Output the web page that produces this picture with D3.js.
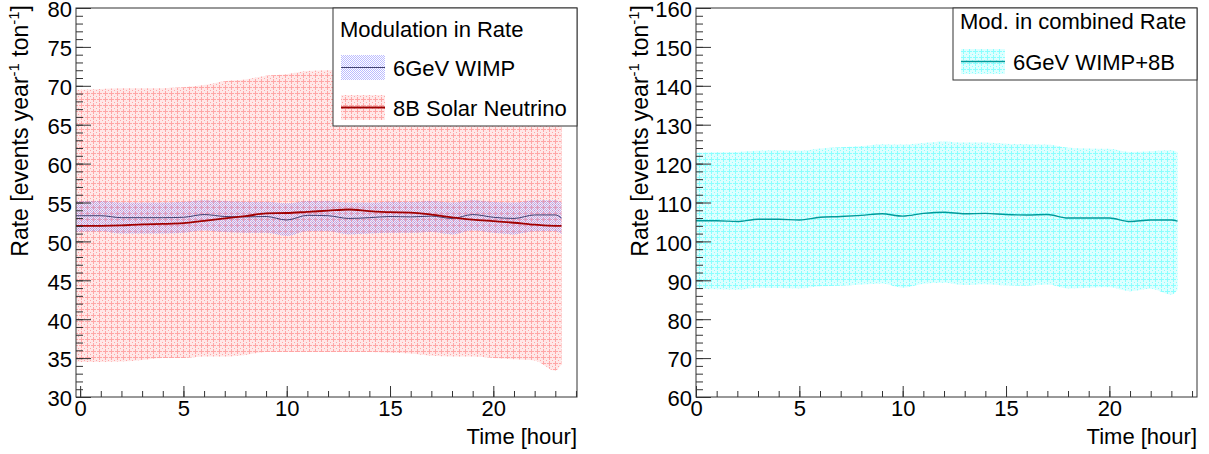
<!DOCTYPE html>
<html>
<head>
<meta charset="utf-8">
<script src="https://cdn.jsdelivr.net/npm/d3@7"></script>
<style>
body { margin: 0; background: #fff; }
text { font-family: "Liberation Sans", Arial, Helvetica, sans-serif; fill: #000; }
</style>
</head>
<body>
<svg id="chart" width="1209" height="454"></svg>
<script>
// time points (hours)
var hoursL = [-0.2, 1, 2, 3, 4, 5, 6, 7, 8, 9, 10, 11, 12, 13, 14, 15, 16, 17, 18, 19, 20, 21, 22, 23, 23.3];
var hoursR = [0, 1, 2, 3, 4, 5, 6, 7, 8, 9, 10, 11, 12, 13, 14, 15, 16, 17, 18, 19, 20, 21, 22, 23, 23.3];

// 6GeV WIMP
var wimpRate = [53.3, 53.3, 53.05, 53.05, 53.05, 53.1, 53.45, 53.2, 53.15, 53.2, 52.75, 53.35, 53.3, 52.95, 53.05, 53.2, 53.15, 53.25, 52.95, 53.45, 53.1, 52.95, 53.4, 53.4, 53.0];
var wimpHigh = [55.2, 55.2, 55.0, 55.0, 55.0, 55.1, 55.3, 55.2, 55.1, 55.1, 54.9, 55.2, 55.2, 55.0, 55.0, 55.1, 55.1, 55.2, 55.0, 55.3, 55.1, 55.0, 55.3, 55.3, 55.0];
var wimpLow  = [51.2, 51.3, 51.0, 51.0, 51.0, 51.1, 51.4, 51.2, 51.1, 51.1, 50.7, 51.3, 51.3, 50.9, 51.0, 51.1, 51.1, 51.2, 50.9, 51.4, 51.1, 50.9, 51.3, 51.3, 50.9];

// 8B solar neutrino
var nuRate = [52.0, 52.0, 52.05, 52.2, 52.25, 52.35, 52.65, 52.95, 53.25, 53.6, 53.65, 53.8, 53.95, 54.1, 53.9, 53.75, 53.7, 53.45, 53.1, 52.8, 52.6, 52.4, 52.15, 52.0, 52.0];
var nuHigh = [69.5, 69.6, 69.7, 69.7, 69.7, 69.8, 70.1, 70.6, 70.8, 71.3, 71.5, 71.9, 72.0, 72.1, 72.1, 72.0, 72.0, 71.8, 71.4, 71.1, 70.9, 70.6, 70.4, 70.3, 70.0];
var nuLow  = [34.5, 34.5, 34.55, 34.75, 35.0, 35.0, 35.2, 35.2, 35.4, 35.8, 35.8, 35.8, 35.8, 35.8, 35.8, 35.7, 35.6, 35.3, 35.2, 35.2, 35.0, 34.85, 34.7, 33.4, 34.2];

// 6GeV WIMP + 8B combined
var comboRate = [105.3, 105.3, 105.1, 105.7, 105.7, 105.5, 106.2, 106.4, 106.7, 107.1, 106.5, 107.2, 107.5, 107.1, 107.2, 106.9, 106.8, 106.9, 106.0, 106.0, 106.0, 105.1, 105.5, 105.5, 105.2];
var comboHigh = [122.8, 122.9, 123.0, 123.3, 123.4, 123.3, 123.9, 124.2, 124.5, 125.0, 124.9, 125.3, 125.6, 125.4, 125.4, 125.1, 125.0, 124.9, 124.1, 123.9, 123.8, 123.0, 123.2, 123.4, 122.9];
var comboLow  = [87.8, 87.7, 87.6, 88.1, 88.0, 87.9, 88.5, 88.6, 88.9, 89.2, 88.1, 89.1, 89.4, 88.8, 89.0, 88.7, 88.6, 88.9, 87.9, 88.1, 88.2, 87.2, 87.8, 86.3, 87.5];

var xTicks = [0, 5, 10, 15, 20];
var leftYTicks = [30, 35, 40, 45, 50, 55, 60, 65, 70, 75, 80];
var rightYTicks = [60, 70, 80, 90, 100, 110, 120, 130, 140, 150, 160];

var FS = 22;
var svg = d3.select("#chart");
svg.append("rect").attr("width", 1209).attr("height", 454).attr("fill", "#fff");

// ROOT-like fill patterns
var defs = svg.append("defs");
function crossPattern(id, bg, fg) {
    var p = defs.append("pattern").attr("id", id)
        .attr("width", 6).attr("height", 6)
        .attr("patternUnits", "userSpaceOnUse");
    p.append("rect").attr("width", 6).attr("height", 6).attr("fill", bg);
    p.append("path").attr("d", "M3,0.5v5M0.5,3h5")
        .attr("stroke", fg).attr("stroke-width", 1).attr("shape-rendering", "crispEdges");
    p.append("rect").attr("x", 0).attr("y", 0).attr("width", 1).attr("height", 1).attr("fill", fg);
}
crossPattern("redFill", "rgba(255,205,205,0.45)", "#ffa6a6");
crossPattern("cyanFill", "rgba(195,255,255,0.55)", "#8affff");
var bp = defs.append("pattern").attr("id", "blueFill")
    .attr("width", 2).attr("height", 2).attr("patternUnits", "userSpaceOnUse");
bp.append("rect").attr("x", 0).attr("y", 0).attr("width", 1).attr("height", 1).attr("fill", "rgba(120,120,255,0.5)");
bp.append("rect").attr("x", 1).attr("y", 1).attr("width", 1).attr("height", 1).attr("fill", "rgba(120,120,255,0.5)");

function drawPanel(ox, xDomain, yDomain, yTicks, yMinorStep) {
    var left = ox + 76, right = ox + 577, top = 8, bottom = 397;
    var x = d3.scaleLinear().domain(xDomain).range([left, right]);
    var y = d3.scaleLinear().domain(yDomain).range([bottom, top]);
    var g = svg.append("g");

    var fr = svg.append("g");
    // axes, ticks pointing inward like ROOT
    var xMinor = d3.range(Math.ceil(xDomain[0]), xDomain[1], 1);
    var yMinor = d3.range(yDomain[0], yDomain[1] + 0.001, yMinorStep);

    fr.append("g").attr("transform", "translate(0," + bottom + ")")
        .call(d3.axisBottom(x).tickValues(xMinor).tickSize(-6).tickFormat(""));
    fr.append("g").attr("transform", "translate(0," + bottom + ")")
        .call(d3.axisBottom(x).tickValues(xTicks).tickSize(-11).tickPadding(3))
        .selectAll("text").attr("font-size", FS);
    fr.append("g").attr("transform", "translate(" + left + ",0)")
        .call(d3.axisLeft(y).tickValues(yMinor).tickSize(-7).tickFormat(""));
    fr.append("g").attr("transform", "translate(" + left + ",0)")
        .call(d3.axisLeft(y).tickValues(yTicks).tickSize(-15).tickPadding(4))
        .selectAll("text").attr("font-size", FS).attr("dy", "0.4em");
    fr.selectAll(".domain").remove();
    fr.selectAll("line").attr("stroke", "#333");
    fr.selectAll("g").attr("font-family", null);

    fr.append("rect").attr("x", left).attr("y", top)
        .attr("width", right - left).attr("height", bottom - top)
        .attr("fill", "none").attr("stroke", "#333").attr("stroke-width", 1);

    // axis titles
    fr.append("text").attr("x", right).attr("y", 444)
        .attr("text-anchor", "end").attr("font-size", FS).text("Time [hour]");
    var yt = fr.append("text").attr("transform", "translate(" + (ox + 28) + ",5) rotate(-90)")
        .attr("text-anchor", "end").attr("font-size", 23);
    yt.append("tspan").text("Rate [events year");
    yt.append("tspan").attr("dy", -9).attr("font-size", 15).text("-1");
    yt.append("tspan").attr("dy", 9).text(" ton");
    yt.append("tspan").attr("dy", -9).attr("font-size", 15).text("-1");
    yt.append("tspan").attr("dy", 9).text("]");

    return {x: x, y: y, g: g, fr: fr};
}

function band(p, hours, lo, hi, fill) {
    var area = d3.area()
        .x(function(d, i) { return p.x(hours[i]); })
        .y0(function(d, i) { return p.y(lo[i]); })
        .y1(function(d, i) { return p.y(hi[i]); })
        .curve(d3.curveMonotoneX);
    p.g.append("path").datum(hours).attr("d", area).attr("fill", fill);
}
function line(p, hours, vals, color, w) {
    var ln = d3.line()
        .x(function(d, i) { return p.x(hours[i]); })
        .y(function(d) { return p.y(d); })
        .curve(d3.curveMonotoneX);
    p.g.append("path").datum(vals).attr("d", ln)
        .attr("fill", "none").attr("stroke", color).attr("stroke-width", w);
}

// left panel
var pl = drawPanel(0, [-0.2, 24.05], [30, 80], leftYTicks, 1);
band(pl, hoursL, nuLow, nuHigh, "url(#redFill)");
band(pl, hoursL, wimpLow, wimpHigh, "url(#blueFill)");
line(pl, hoursL, wimpRate, "#404070", 1);
line(pl, hoursL, nuRate, "#a00000", 1.8);

// right panel
var pr = drawPanel(620, [0, 24.24], [60, 160], rightYTicks, 2);
band(pr, hoursR, comboLow, comboHigh, "url(#cyanFill)");
line(pr, hoursR, comboRate, "#009a9a", 1.4);

// legends
function legend(x0, y0, w, h, title, titleY, entries) {
    var lg = svg.append("g");
    lg.append("rect").attr("x", x0).attr("y", y0).attr("width", w).attr("height", h)
        .attr("fill", "#fff").attr("stroke", "#333").attr("stroke-width", 1);
    lg.append("text").attr("x", x0 + 7).attr("y", titleY).attr("font-size", FS).text(title);
    entries.forEach(function(e) {
        lg.append("rect").attr("x", x0 + 8).attr("y", e.y).attr("width", 44).attr("height", 25).attr("fill", e.fill);
        lg.append("line").attr("x1", x0 + 8).attr("x2", x0 + 52)
            .attr("y1", e.y + 12.5).attr("y2", e.y + 12.5)
            .attr("stroke", e.color).attr("stroke-width", e.w);
        lg.append("text").attr("x", x0 + 60).attr("y", e.y + 21).attr("font-size", FS).text(e.label);
    });
}
legend(333, 8, 244, 118, "Modulation in Rate", 37, [
    {y: 55, fill: "url(#blueFill)", color: "#404070", w: 1, label: "6GeV WIMP"},
    {y: 95, fill: "url(#redFill)", color: "#a00000", w: 1.8, label: "8B Solar Neutrino"}
]);
legend(953, 8, 244, 72, "Mod. in combined Rate", 29, [
    {y: 49, fill: "url(#cyanFill)", color: "#009a9a", w: 1.4, label: "6GeV WIMP+8B"}
]);
</script>
</body>
</html>
